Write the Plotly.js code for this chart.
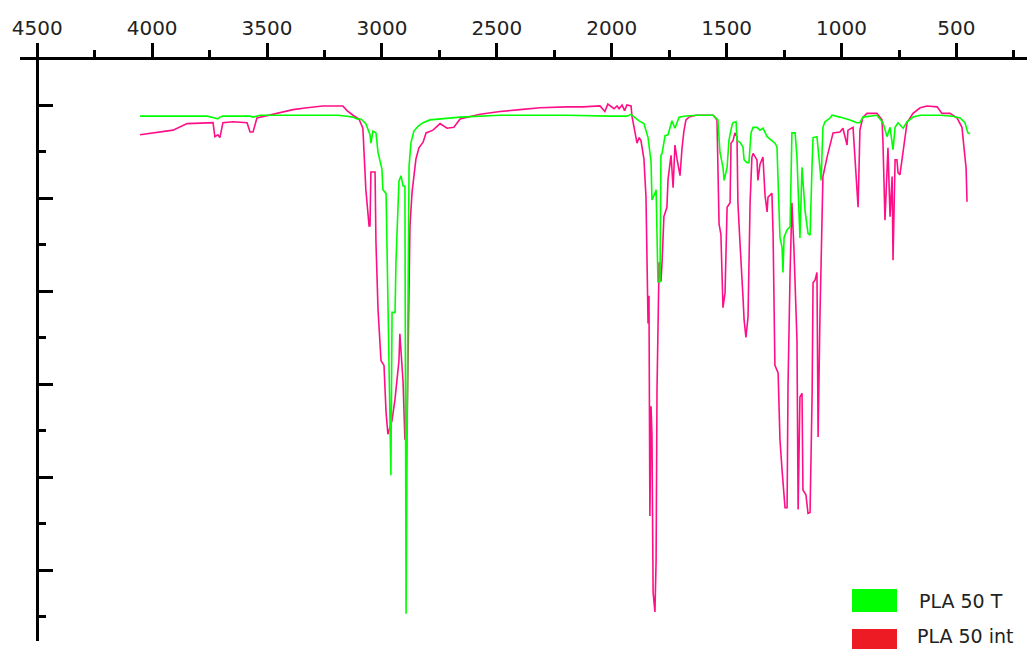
<!DOCTYPE html>
<html>
<head>
<meta charset="utf-8">
<script src="https://cdn.plot.ly/plotly-3.0.1.min.js"></script>
<style>html,body{margin:0;padding:0;background:#fff;}#chart{width:1027px;height:649px;}</style>
</head>
<body>
<div id="chart"></div>
<script>
// PLA 50 T (green)
const wnT = [4053,3761,3727,3714,3705,3692,3574,3561,3531,3326,3191,3152,3126,3109,3091,3070,3052,3048,3039,3026,3017,3000,2996,2982,2974,2965,2961,2956,2943,2939,2930,2926,2917,2908,2900,2895,2887,2882,2874,2861,2843,2821,2791,2747,2660,2486,2195,2008,1934,1916,1903,1881,1860,1842,1829,1825,1812,1807,1799,1790,1786,1781,1768,1755,1738,1725,1707,1686,1633,1559,1538,1529,1516,1511,1498,1490,1477,1472,1459,1455,1442,1429,1424,1411,1403,1394,1385,1368,1355,1342,1324,1303,1290,1281,1276,1268,1259,1255,1250,1237,1224,1216,1202,1194,1189,1181,1172,1163,1159,1146,1137,1128,1124,1107,1098,1089,1081,1072,1050,1041,1007,963,933,920,907,846,820,802,789,776,767,754,732,715,689,658,571,515,484,463,450,441];
const tT = [98.8,98.8,98.6,98.5,98.7,98.8,98.8,98.7,98.9,98.9,98.9,98.8,98.7,98.5,98.5,98.0,96.8,95.9,97.2,97.0,94.9,93.1,90.9,90.5,80.2,68.4,60.2,77.7,77.7,83.1,88.0,91.8,92.4,91.3,91.3,45.3,77.2,93.4,95.9,97.2,97.7,98.1,98.4,98.5,98.7,98.9,98.9,98.8,98.8,99.0,98.7,98.3,98.0,96.5,93.9,89.8,90.5,90.9,81.0,81.0,94.6,94.8,96.7,96.8,98.3,97.5,98.7,98.8,98.9,98.9,98.4,94.9,93.3,91.9,93.3,96.2,97.8,98.1,98.2,96.2,96.0,95.5,94.1,93.8,93.8,97.0,97.6,97.6,97.3,97.5,96.6,96.2,95.9,95.5,91.6,85.8,84.7,82.0,85.8,86.6,86.9,97.0,97.0,94.4,91.0,85.7,93.3,89.3,88.7,86.2,86.0,93.8,96.5,96.6,94.2,91.9,97.6,98.2,98.6,98.9,98.7,98.4,98.1,98.1,98.7,98.9,98.1,96.6,97.6,95.2,97.6,98.1,97.5,98.2,98.7,98.9,98.9,98.8,98.6,98.1,97.0,96.9];

// PLA 50 int (pink)
const wnI = [4053,3996,3909,3848,3761,3735,3727,3714,3705,3692,3648,3587,3574,3561,3544,3487,3387,3326,3257,3170,3152,3126,3100,3083,3078,3070,3056,3052,3048,3030,3026,3017,3004,2991,2982,2974,2956,2943,2926,2922,2908,2900,2891,2882,2878,2869,2852,2839,2821,2808,2778,2747,2717,2687,2660,2573,2486,2399,2312,2195,2125,2051,2030,2017,2008,1990,1977,1968,1955,1944,1934,1916,1912,1903,1890,1881,1873,1860,1851,1842,1838,1834,1829,1825,1820,1812,1807,1803,1794,1786,1781,1773,1760,1755,1742,1733,1725,1716,1707,1703,1694,1686,1677,1664,1633,1559,1542,1533,1525,1520,1516,1507,1498,1485,1481,1472,1464,1455,1451,1442,1433,1429,1424,1416,1407,1398,1390,1385,1368,1364,1355,1342,1333,1324,1320,1303,1298,1290,1276,1268,1259,1255,1246,1237,1233,1224,1216,1207,1198,1194,1189,1181,1172,1168,1155,1146,1137,1128,1124,1115,1107,1102,1094,1085,1081,1063,1050,1037,1007,994,976,972,950,933,928,920,907,889,846,824,820,811,802,798,789,780,776,767,759,754,746,737,728,715,689,658,628,584,563,528,497,476,467,458,454];
const tI = [96.8,97.0,97.3,98.0,98.1,98.1,96.6,96.8,96.5,98.1,98.2,98.1,97.1,97.1,98.6,98.9,99.5,99.7,99.9,99.9,99.4,98.9,98.5,97.5,95.4,90.9,87.0,87.0,92.8,92.8,85.2,78.0,72.5,72.0,66.9,64.6,66.1,68.4,72.5,75.4,70.2,64.0,65.1,78.0,87.0,90.6,94.2,95.4,96.0,97.0,97.3,98.0,97.5,97.6,98.5,99.0,99.3,99.5,99.7,99.8,99.8,99.9,99.3,100.1,99.9,99.6,99.9,99.6,100.0,99.4,100.0,99.9,98.8,97.5,95.9,96.5,96.2,94.2,90.1,76.5,79.5,55.8,67.6,64.6,47.6,45.5,51.0,69.5,83.1,81.0,83.1,88.0,89.0,92.0,94.6,91.1,95.7,94.2,92.8,92.4,95.4,97.2,98.4,98.7,98.9,98.9,98.4,87.2,86.1,80.9,78.2,79.8,89.0,89.5,95.9,96.2,97.0,96.6,89.5,85.2,80.1,79.4,76.9,75.0,77.2,89.5,94.4,94.8,94.1,91.9,93.6,94.4,90.3,88.5,90.1,90.5,86.2,72.0,71.2,64.0,60.8,59.5,56.7,56.7,69.7,81.9,89.5,84.4,76.6,74.7,56.5,68.6,69.0,58.6,58.1,56.1,56.2,69.0,80.9,81.2,82.0,64.3,77.2,86.9,92.3,94.4,95.8,97.0,97.1,97.5,95.7,97.3,97.6,89.8,89.0,97.3,98.7,99.1,99.1,98.4,96.2,87.6,92.3,95.4,88.0,92.3,83.3,94.1,94.1,92.7,92.5,94.1,96.2,98.1,99.1,99.7,99.9,99.8,99.1,99.1,98.6,97.6,95.4,93.2,89.6];

const seriesNames = ["PLA 50 T", "PLA 50 int"];
const lineColors = ["#00ff00", "#ff0f87"];
const legendColors = ["#00ff00", "#ed1c24"];
const xTickVals = [4500,4000,3500,3000,2500,2000,1500,1000,500];

const traces = [
  {x: wnI, y: tI, type: "scatter", mode: "lines", name: seriesNames[1],
   line: {color: lineColors[1], width: 1.6}, showlegend: false},
  {x: wnT, y: tT, type: "scatter", mode: "lines", name: seriesNames[0],
   line: {color: lineColors[0], width: 1.6}, showlegend: false}
];

const W = 1027, H = 649, mL = 20, mR = 0, mT = 60, mB = 8;
const pw = W - mL - mR, ph = H - mT - mB;
function px(p){ return (p - mL) / pw; }
function py(p){ return (H - mB - p) / ph; }

const layout = {
  width: W, height: H,
  margin: {l: mL, r: mR, t: mT, b: mB, pad: 0},
  paper_bgcolor: "#ffffff", plot_bgcolor: "#ffffff",
  showlegend: false,
  xaxis: {
    range: [4575, 193], side: "top", showgrid: false, zeroline: false,
    showline: true, linecolor: "#000", linewidth: 3,
    tickmode: "array", tickvals: xTickVals, ticktext: xTickVals.map(String),
    ticks: "outside", ticklen: 14, tickwidth: 3, tickcolor: "#000",
    minor: {dtick: 250, tick0: 0, ticks: "outside", ticklen: 7, tickwidth: 3, tickcolor: "#000", showgrid: false},
    tickfont: {family: "DejaVu Sans, Verdana, sans-serif", size: 20, color: "#222"},
    fixedrange: true
  },
  yaxis: {
    range: [42.37, 104.84], anchor: "free", position: px(37.3),
    showgrid: false, zeroline: false, showticklabels: false,
    showline: true, linecolor: "#000", linewidth: 3,
    dtick: 10, tick0: 0, ticks: "inside", ticklen: 14, tickwidth: 3, tickcolor: "#000",
    minor: {dtick: 5, tick0: 0, ticks: "inside", ticklen: 7, tickwidth: 3, tickcolor: "#000", showgrid: false},
    fixedrange: true
  },
  shapes: [
    {type: "rect", xref: "paper", yref: "paper", x0: px(852), x1: px(897), y0: py(612), y1: py(589),
     fillcolor: legendColors[0], line: {width: 0}},
    {type: "rect", xref: "paper", yref: "paper", x0: px(852), x1: px(897), y0: py(652), y1: py(629),
     fillcolor: legendColors[1], line: {width: 0}}
  ],
  annotations: [
    {text: seriesNames[0], xref: "paper", yref: "paper", x: px(917), y: py(601), xanchor: "left", yanchor: "middle",
     showarrow: false, font: {family: "DejaVu Sans, Verdana, sans-serif", size: 19, color: "#222"}},
    {text: seriesNames[1], xref: "paper", yref: "paper", x: px(915), y: py(636), xanchor: "left", yanchor: "middle",
     showarrow: false, font: {family: "DejaVu Sans, Verdana, sans-serif", size: 19, color: "#222"}}
  ]
};

Plotly.newPlot("chart", traces, layout, {displayModeBar: false, staticPlot: true});
</script>
</body>
</html>
